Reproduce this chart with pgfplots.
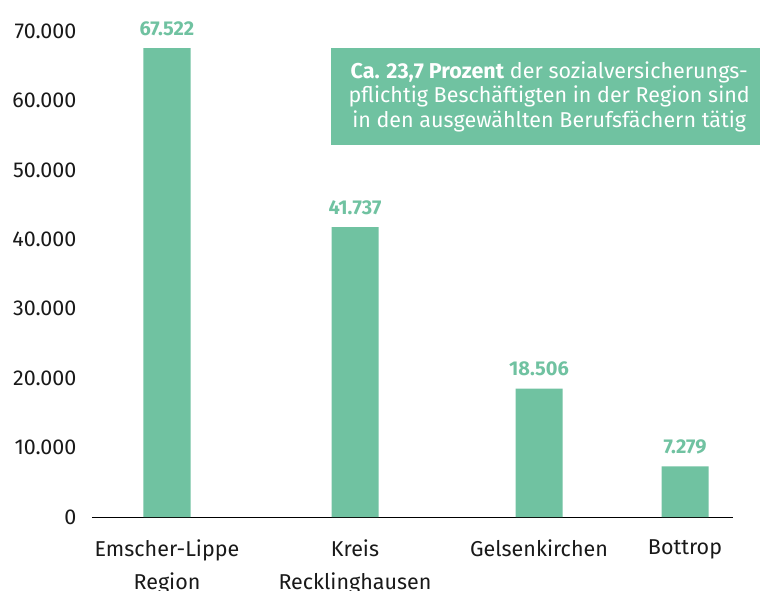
\documentclass[border=0pt]{standalone}
\usepackage{pgfplots}
\pgfplotsset{compat=1.18}
\usepackage{fontspec}
\setmainfont{Fira Sans}
\definecolor{bargreen}{RGB}{112,194,161}
\definecolor{txt}{RGB}{25,25,25}
\begin{document}
\begin{tikzpicture}[x=1pt,y=1pt]
\useasboundingbox (-92,-73) rectangle (668,517);
\begin{axis}[
  at={(0,0)}, anchor=south west,
  scale only axis, width=641pt, height=486pt,
  xmin=0, xmax=641, ymin=0, ymax=70000,
  axis lines*=left,
  x axis line style={-, black, line width=1pt},
  y axis line style={draw=none},
  major tick length=0pt,
  ytick={0,10000,...,70000},
  xtick={75,263,447,593},
  xticklabels={{Emscher-Lippe\\Region},{Kreis\\Recklinghausen},{Gelsenkirchen},{Bottrop}},
  xticklabel style={align=center, font=\fontsize{21.5}{33}\selectfont, text=txt, yshift=-19pt},
  yticklabel style={font=\fontsize{21.5}{24}\selectfont, text=txt, xshift=-12pt},
  /pgf/number format/.cd, 1000 sep={.}, fixed, assume math mode=true,
  /pgfplots/.cd,
  scaled y ticks=false,
  clip=false,
]
\addplot[ybar, fill=bargreen, draw=none, bar width=47pt,
  nodes near coords={\pgfmathprintnumber[1000 sep={.},fixed,precision=0]{\pgfplotspointmeta}},
  every node near coord/.append style={font=\bfseries\fontsize{20}{24}\selectfont, text=bargreen, yshift=9pt}]
  coordinates {(75,67522) (263,41737) (447,18506) (593,7279)};
\end{axis}
\node[fill=bargreen, text=white, align=center, font=\fontsize{21.5}{24.5}\selectfont,
  minimum width=429pt, minimum height=97pt, anchor=north west, inner sep=0pt] at (239,469)
  {\hspace*{7pt}\textbf{Ca. 23,7 Prozent} der sozialversicherungs-\\\hspace*{7pt}pflichtig Beschäftigten in der Region sind\\\hspace*{7pt}in den ausgewählten Berufsfächern tätig};
\end{tikzpicture}
\end{document}
